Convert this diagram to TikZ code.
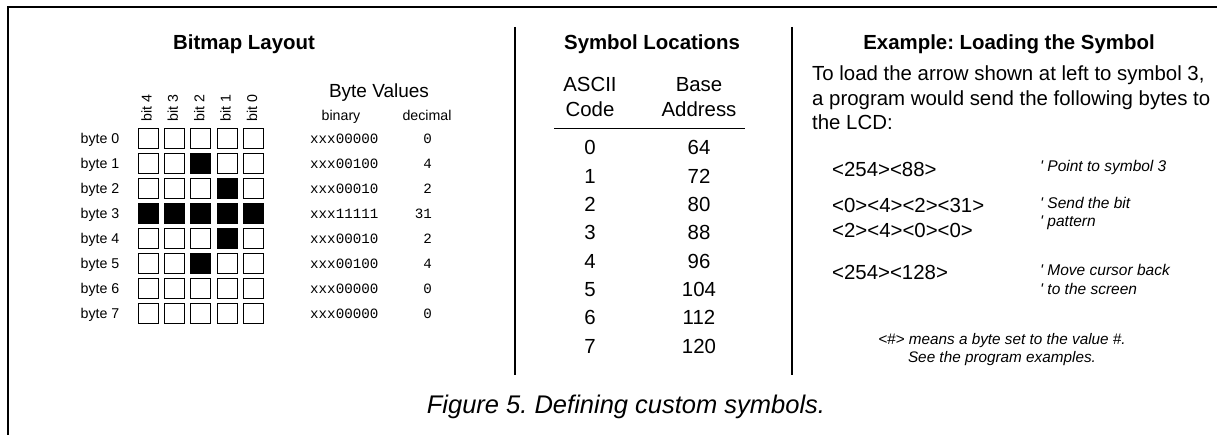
\documentclass[tikz,border=0pt]{standalone}
\usepackage{fontspec}
\setmainfont{Liberation Sans}
\setmonofont{Liberation Mono}
\frenchspacing
\begin{document}
\begin{tikzpicture}[x=1pt, y=-1pt,
		title/.style={font=\fontsize{20.4}{24}\selectfont\bfseries, anchor=base, inner sep=0pt},
		big/.style={font=\fontsize{20.4}{24}\selectfont, anchor=base, inner sep=0pt},
		small/.style={font=\fontsize{14.2}{17}\selectfont, anchor=base, inner sep=0pt},
		code/.style={font=\fontsize{14.2}{17}\selectfont\ttfamily, inner sep=0pt},
		note/.style={font=\fontsize{15.5}{19}\selectfont\itshape, anchor=base west, inner sep=0pt},
		cell/.style={rectangle, draw=black, line width=0.9pt, minimum size=20pt, inner sep=0pt}]
		\useasboundingbox (0,0) rectangle (1217,435);
		% frame and column rules
		\draw[line width=1.5pt] (8,435) -- (8,7) -- (1217,7);
		\draw[line width=1.2pt] (515,27) -- (515,375);
		\draw[line width=1.2pt] (792,27) -- (792,375);
		\node (bmtitle) at (244,49.5) [title] {Bitmap Layout};
		\node (symtitle) at (652,50) [title] {Symbol Locations};
		\node (extitle) at (1009,50) [title] {Example: Loading the Symbol};
		% bitmap
		\node (bytevals) at (379,97.3) [big, font=\fontsize{19}{23}\selectfont] {Byte Values};
		\node (binary) at (341,120.7) [small] {binary};
		\node (decimal) at (427,120.7) [small] {decimal};
		\foreach \c in {0,...,4}
			\pgfmathtruncatemacro\bit{4-\c}
			\node (bit\c) at ({151.5+26.4*\c},122) [small, rotate=90, anchor=base west] {bit \bit};
		\foreach \bits/\v [count=\r from 0] in {00000/0,00100/4,00010/2,11111/31,00010/2,00100/4,00000/0,00000/0} {
			\node (byte\r) at (119.5,{143.5+25*\r}) [small, anchor=base east] {byte \r};
			\foreach \c in {0,...,4} {
				\pgfmathtruncatemacro\b{mod(floor(\v/2^(4-\c)),2)}
				\ifnum\b=1 \def\cellfill{black}\else\def\cellfill{white}\fi
				\node (cell\r\c) at ({148+26.4*\c},{138.5+25*\r}) [cell, fill=\cellfill] {};
			}
			\node (bin\r) at (310,{143.5+25*\r}) [code, anchor=base west] {xxx\bits};
			\node (dec\r) at (432,{143.5+25*\r}) [code, anchor=base east] {\v};
		}
		% symbol table
		\node (ascii) at (590,91.7) [big] {ASCII};
		\node (code) at (590,116.7) [big] {Code};
		\node (base) at (699,91.7) [big] {Base};
		\node (address) at (699,116.7) [big] {Address};
		\draw[line width=1pt] (554,128.3) -- (745,128.3);
		\foreach \a [count=\i from 0] in {64,72,80,88,96,104,112,120} {
			\node (sym\i) at (590,{155+28.33*\i}) [big] {\i};
			\node (adr\i) at (699,{155+28.33*\i}) [big] {\a};
		}
		% example
		\node (intro1) at (812,81) [big, anchor=base west] {To load the arrow shown at left to symbol 3,};
		\node (intro2) at (812,105.5) [big, anchor=base west] {a program would send the following bytes to};
		\node (intro3) at (812,130) [big, anchor=base west] {the LCD:};
		\node (cmd1) at (832,176.7) [big, anchor=base west] {<254><88>};
		\node (cmd2) at (832,212.3) [big, anchor=base west] {<0><4><2><31>};
		\node (cmd3) at (832,237.3) [big, anchor=base west] {<2><4><0><0>};
		\node (cmd4) at (832,279.3) [big, anchor=base west] {<254><128>};
		\node (rem1) at (1040,171.7) [note] {\textquotesingle\ Point to symbol 3};
		\node (rem2) at (1040,208.5) [note] {\textquotesingle\ Send the bit};
		\node (rem3) at (1040,226.3) [note] {\textquotesingle\ pattern};
		\node (rem4) at (1040,275.5) [note] {\textquotesingle\ Move cursor back};
		\node (rem5) at (1040,294.5) [note] {\textquotesingle\ to the screen};
		\node (foot1) at (1002,344) [note, anchor=base, font=\fontsize{15.3}{18}\selectfont\itshape] {<\#> means a byte set to the value \#.};
		\node (foot2) at (1002,362.3) [note, anchor=base, font=\fontsize{15.3}{18}\selectfont\itshape] {See the program examples.};
		\node (caption) at (626,413) [anchor=base, inner sep=0pt, font=\fontsize{25.5}{30}\selectfont\itshape] {Figure 5. Defining custom symbols.};
	\end{tikzpicture}
\end{document}
